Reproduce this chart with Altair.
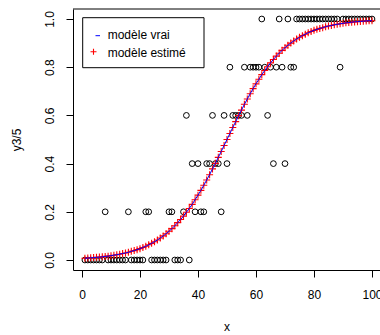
import altair as alt
import pandas as pd

# observed proportions y3/5 for x = 1..100
x_vals = list(range(1, 101))
y_obs = [
    0, 0, 0, 0, 0, 0, 0, 0.2, 0, 0,          # 1-10
    0, 0, 0, 0, 0, 0.2, 0, 0, 0, 0,          # 11-20
    0, 0.2, 0.2, 0, 0, 0, 0, 0, 0, 0.2,      # 21-30
    0.2, 0, 0, 0, 0.2, 0.6, 0, 0.4, 0.2, 0.4,  # 31-40
    0.2, 0.2, 0.4, 0.4, 0.6, 0.4, 0.4, 0.2, 0.6, 0.4,  # 41-50
    0.8, 0.6, 0.6, 0.6, 0.6, 0.8, 0.6, 0.8, 0.8, 0.8,  # 51-60
    0.8, 1.0, 0.8, 0.6, 0.8, 0.4, 0.8, 1.0, 0.8, 0.4,  # 61-70
    1.0, 0.8, 0.8, 1.0, 1.0, 1.0, 1.0, 1.0, 1.0, 1.0,  # 71-80
    1.0, 1.0, 1.0, 1.0, 1.0, 1.0, 1.0, 1.0, 0.8, 1.0,  # 81-90
    1.0, 1.0, 1.0, 1.0, 1.0, 1.0, 1.0, 1.0, 1.0, 1.0,  # 91-100
]

# curve values (true and estimated model overlap)
p_vrai = [
    0.007, 0.008, 0.009, 0.010, 0.011, 0.012, 0.013, 0.015, 0.016, 0.018,
    0.020, 0.022, 0.024, 0.027, 0.029, 0.032, 0.036, 0.039, 0.043, 0.047,
    0.052, 0.057, 0.063, 0.069, 0.076, 0.083, 0.091, 0.100, 0.109, 0.119,
    0.130, 0.142, 0.155, 0.168, 0.182, 0.198, 0.214, 0.231, 0.250, 0.269,
    0.289, 0.310, 0.332, 0.354, 0.378, 0.401, 0.426, 0.450, 0.475, 0.500,
    0.525, 0.550, 0.574, 0.599, 0.622, 0.646, 0.668, 0.690, 0.711, 0.731,
    0.750, 0.769, 0.786, 0.802, 0.818, 0.832, 0.846, 0.858, 0.870, 0.881,
    0.891, 0.900, 0.909, 0.917, 0.924, 0.931, 0.937, 0.943, 0.948, 0.953,
    0.957, 0.961, 0.964, 0.968, 0.971, 0.973, 0.976, 0.978, 0.980, 0.982,
    0.984, 0.985, 0.987, 0.988, 0.989, 0.990, 0.991, 0.992, 0.993, 0.993,
]
p_estime = list(p_vrai)

legend_labels = ["modèle vrai", "modèle estimé"]
x_ticks = [0, 20, 40, 60, 80, 100]
y_ticks = [0.0, 0.2, 0.4, 0.6, 0.8, 1.0]

df = pd.DataFrame({"x": x_vals, "y": y_obs, "p_vrai": p_vrai, "p_estime": p_estime})

FONT = "Liberation Sans"
W, H = 307, 261

xscale = alt.Scale(domain=[-3.1, 102.76], nice=False, zero=False)
yscale = alt.Scale(domain=[-0.0415, 1.0415], nice=False, zero=False)

xaxis = alt.Axis(values=x_ticks, tickSize=7, grid=False, labelPadding=12,
                 labelFontSize=12, labelFont=FONT, labelColor="black",
                 domainColor="black", tickColor="black", labelFlush=False,
                 labelOverlap=False, title="x", titleFont=FONT, titleFontSize=12,
                 titleFontWeight="normal", titleColor="black", titlePadding=21)
yaxis = alt.Axis(values=y_ticks, format=".1f", tickSize=7, grid=False,
                 labelAngle=270, labelAlign="center", labelBaseline="bottom",
                 labelPadding=10, labelFontSize=12, labelFont=FONT,
                 labelColor="black", domainColor="black", tickColor="black",
                 labelFlush=False, labelOverlap=False, title="y3/5",
                 titleFont=FONT, titleFontSize=12, titleFontWeight="normal",
                 titleColor="black", titlePadding=20)

base = alt.Chart(df)

pts = base.mark_point(shape="circle", size=33, color="black", strokeWidth=1,
                      filled=False, opacity=1).encode(
    x=alt.X("x:Q", scale=xscale, axis=xaxis),
    y=alt.Y("y:Q", scale=yscale, axis=yaxis),
)

est = base.mark_point(shape="M-1,0L1,0M0,-1L0,1", size=49, color="red",
                      strokeWidth=1.1, filled=False, opacity=1).encode(
    x=alt.X("x:Q", scale=xscale),
    y=alt.Y("p_estime:Q", scale=yscale),
)

vrai = base.mark_line(color="blue", strokeWidth=1).encode(
    x=alt.X("x:Q", scale=xscale),
    y=alt.Y("p_vrai:Q", scale=yscale),
)

one = alt.InlineData(values=[{"k": 1}])

top_border = alt.Chart(one).mark_rule(color="black", strokeWidth=1).encode(
    x=alt.value(0), x2=alt.value(W), y=alt.value(0))

leg_box = alt.Chart(one).mark_rect(fill="white", stroke="black", strokeWidth=1).encode(
    x=alt.value(9.7), x2=alt.value(131), y=alt.value(8.7), y2=alt.value(58.7))

leg_dash = alt.Chart(one).mark_rule(color="blue", strokeWidth=1).encode(
    x=alt.value(22.5), x2=alt.value(27), y=alt.value(26.7))

leg_plus = alt.Chart(one).mark_point(shape="M-1,0L1,0M0,-1L0,1", size=36,
                                     color="red", strokeWidth=1.1, filled=False,
                                     opacity=1).encode(
    x=alt.value(20.5), y=alt.value(42.7))

leg_t1 = alt.Chart(one).mark_text(text=legend_labels[0], align="left",
                                  baseline="alphabetic", font=FONT, fontSize=12,
                                  color="black").encode(
    x=alt.value(34.7), y=alt.value(30.3))
leg_t2 = alt.Chart(one).mark_text(text=legend_labels[1], align="left",
                                  baseline="alphabetic", font=FONT, fontSize=12,
                                  color="black").encode(
    x=alt.value(34.7), y=alt.value(47.7))

chart = alt.layer(pts, est, vrai, top_border, leg_box, leg_dash, leg_plus,
                  leg_t1, leg_t2).properties(
    width=W, height=H,
    autosize=alt.AutoSizeParams(type="none"),
    padding={"left": 73, "top": 9, "right": 0, "bottom": 65},
    background="white",
).configure_view(stroke=None)

chart.save("out.html", embed_options={"renderer": "svg", "actions": False})
